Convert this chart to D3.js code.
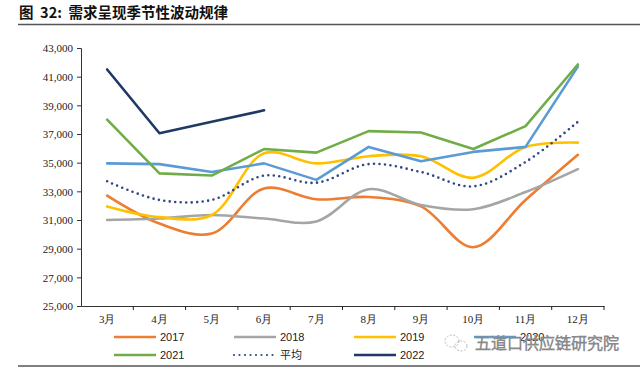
<!DOCTYPE html>
<html>
<head>
<meta charset="utf-8">
<script src="https://cdn.jsdelivr.net/npm/d3@7"></script>
<style>
    body { margin: 0; background: white; }
    svg { display: block; }
</style>
</head>
<body>
<div id="container"></div>
<script>
// monthly demand by year
const months = ["3月", "4月", "5月", "6月", "7月", "8月", "9月", "10月", "11月", "12月"]
const yTicks = [25000, 27000, 29000, 31000, 33000, 35000, 37000, 39000, 41000, 43000]

const v2017 = [32700, 30750, 30050, 33200, 32450, 32600, 31950, 29100, 32400, 35550]
const v2018 = [31000, 31100, 31350, 31100, 30900, 33150, 32050, 31750, 32950, 34550]
const v2019 = [31950, 31200, 31350, 35650, 34950, 35450, 35450, 33950, 36100, 36400]
const v2020 = [34950, 34900, 34350, 34950, 33800, 36100, 35100, 35750, 36100, 41700]
const v2021 = [38000, 34250, 34100, 35950, 35700, 37200, 37100, 35950, 37550, 41850]
const vAvg = [33700, 32400, 32400, 34100, 33600, 34900, 34350, 33350, 35050, 37850]
const v2022 = [41500, 37050, 37850, 38650]

const series = [
    { name: "2017", values: v2017, color: "#ed7d31", smooth: true },
    { name: "2018", values: v2018, color: "#a5a5a5", smooth: true },
    { name: "2019", values: v2019, color: "#ffc000", smooth: true },
    { name: "2020", values: v2020, color: "#5b9bd5", smooth: false },
    { name: "2021", values: v2021, color: "#70ad47", smooth: false },
    { name: "平均", values: vAvg, color: "#2f4a80", smooth: true, dotted: true },
    { name: "2022", values: v2022, color: "#1f3864", smooth: false },
]

const w = 640
const h = 371
const margin = { left: 81, right: 36, top: 48, bottom: 65 }

const svg = d3.select("#container")
    .append("svg")
    .attr("width", w)
    .attr("height", h)
    .style("background-color", "white")

// title + rules
svg.append("text")
    .attr("x", 19)
    .attr("y", 18)
    .text("图  32:  需求呈现季节性波动规律")
    .style("font-family", "'Noto Sans CJK SC'")
    .style("font-weight", "bold")
    .style("font-size", "14.5px")
    .style("fill", "#111")
    .attr("xml:space", "preserve")
svg.append("line")
    .attr("x1", 18).attr("x2", w)
    .attr("y1", 24.5).attr("y2", 24.5)
    .attr("stroke", "#555")
    .attr("stroke-width", 1.5)
svg.append("line")
    .attr("x1", 18).attr("x2", w)
    .attr("y1", 366).attr("y2", 366)
    .attr("stroke", "#555")
    .attr("stroke-width", 1.5)

const xScale = d3.scaleBand()
    .domain(months)
    .range([margin.left, w - margin.right])
const yScale = d3.scaleLinear()
    .domain([25000, 43000])
    .range([h - margin.bottom, margin.top])

const xAxis = d3.axisBottom(xScale)
    .tickSize(0)
    .tickPadding(9)
const yAxis = d3.axisLeft(yScale)
    .tickValues(yTicks)
    .tickFormat(d3.format(","))
    .tickSize(4)
    .tickPadding(4)

const gx = svg.append("g")
    .attr("transform", `translate(0, ${h - margin.bottom})`)
    .call(xAxis)
// boundary ticks between categories
gx.selectAll(".bound")
    .data(months)
    .enter()
    .append("line")
    .attr("x1", (d) => xScale(d) + xScale.bandwidth())
    .attr("x2", (d) => xScale(d) + xScale.bandwidth())
    .attr("y1", 0).attr("y2", 4)
    .attr("stroke", "#222")

const gy = svg.append("g")
    .attr("transform", `translate(${margin.left}, 0)`)
    .call(yAxis)

svg.selectAll(".domain").attr("stroke", "#333").attr("stroke-width", 1)
svg.selectAll(".tick line").attr("stroke", "#333")
svg.selectAll(".tick text")
    .style("font-family", "'Liberation Serif'")
    .style("font-size", "11px")
    .style("fill", "#222")
gy.selectAll(".tick text").attr("dy", "0.35em")

const cx = (i) => xScale(months[i]) + xScale.bandwidth() / 2

series.forEach((s) => {
    const line = d3.line()
        .x((d, i) => cx(i))
        .y((d) => yScale(d))
        .curve(s.smooth ? d3.curveCatmullRom.alpha(0.5) : d3.curveLinear)
    const path = svg.append("path")
        .datum(s.values)
        .attr("d", line)
        .attr("fill", "none")
        .attr("stroke", s.color)
        .attr("stroke-linejoin", "round")
    if (s.dotted) {
        path.attr("stroke-width", 2.6)
            .attr("stroke-dasharray", "0 5.5")
            .attr("stroke-linecap", "round")
    } else {
        path.attr("stroke-width", 2.6)
            .attr("stroke-linecap", "round")
    }
})

// legend
const legendCols = [114, 234, 354, 474]
const legendRows = [337, 355]
const legend = svg.append("g")
series.forEach((s, i) => {
    const x = legendCols[i % 4]
    const y = legendRows[Math.floor(i / 4)]
    const item = legend.append("g").attr("transform", `translate(${x}, ${y})`)
    const ln = item.append("line")
        .attr("x1", 0).attr("x2", 42)
        .attr("y1", 0).attr("y2", 0)
        .attr("stroke", s.color)
        .attr("stroke-width", 2.6)
    if (s.dotted) {
        ln.attr("stroke-dasharray", "0 5.5").attr("stroke-linecap", "round").attr("stroke-width", 2.2)
    }
    item.append("text")
        .attr("x", 46)
        .attr("y", 0)
        .attr("dy", "0.36em")
        .text(s.name)
        .style("font-family", "'Liberation Sans', 'Noto Sans CJK SC'")
        .style("font-size", "11px")
        .style("fill", "#222")
})

// watermark
const wm = svg.append("g").attr("transform", "translate(0, 343)")
wm.append("ellipse")
    .attr("cx", 452).attr("cy", -2).attr("rx", 7).attr("ry", 6)
    .attr("fill", "none").attr("stroke", "#bbb").attr("stroke-width", 1).attr("stroke-dasharray", "2 1.5")
wm.append("ellipse")
    .attr("cx", 461).attr("cy", 3).attr("rx", 6).attr("ry", 5)
    .attr("fill", "none").attr("stroke", "#bbb").attr("stroke-width", 1).attr("stroke-dasharray", "2 1.5")
wm.append("text")
    .attr("x", 475)
    .attr("y", 0)
    .attr("dy", "0.36em")
    .text("五道口供应链研究院")
    .style("font-family", "'Noto Sans CJK SC'")
    .style("font-weight", "300")
    .style("font-size", "16px")
    .style("fill", "white")
    .style("stroke", "#8a8a8a")
    .style("stroke-width", 0.8)
</script>
</body>
</html>
